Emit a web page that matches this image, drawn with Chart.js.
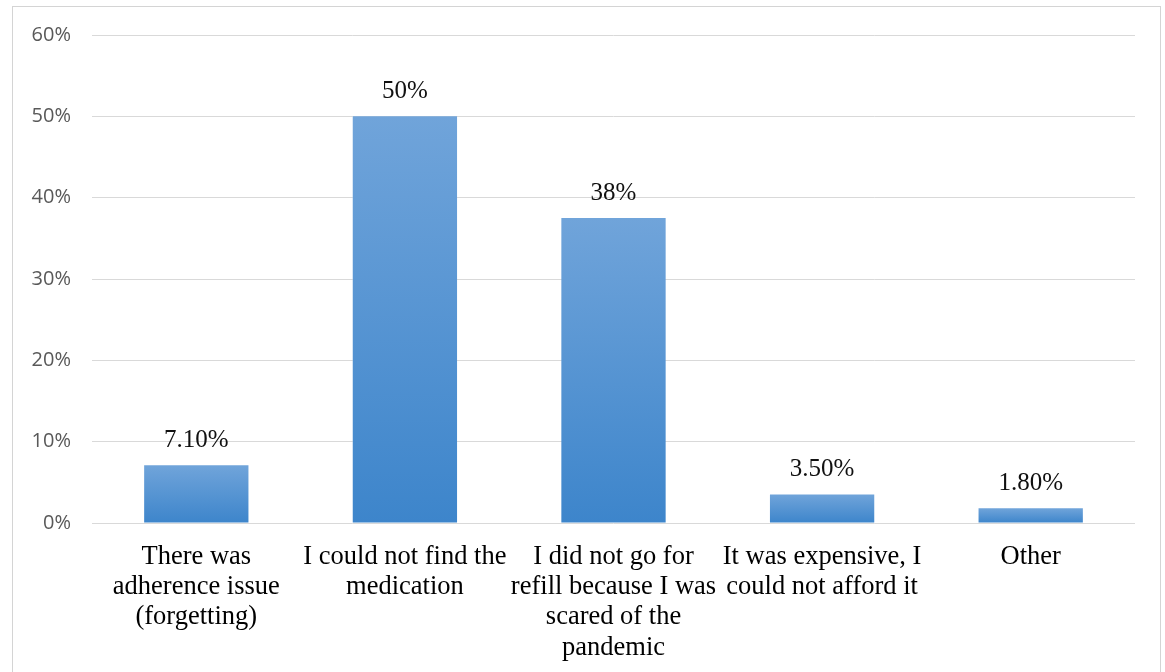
<!DOCTYPE html>
<html>
<head>
<meta charset="utf-8">
<script src="https://cdn.jsdelivr.net/npm/chart.js@4/dist/chart.umd.min.js"></script>
<style>
  html, body { margin: 0; padding: 0; background: #ffffff; overflow: hidden; }
  #frame { position: absolute; left: 12px; top: 6px; width: 1149px; height: 720px; border: 1px solid #d4d4d4; box-sizing: border-box; }
  #wrap { position: absolute; left: 0; top: 0; width: 1165px; height: 672px; }
</style>
</head>
<body>
<div id="frame"></div>
<div id="wrap"><canvas id="c" width="1165" height="672"></canvas></div>
<script>
const categories = [
  ["There was", "adherence issue", "(forgetting)"],
  ["I could not find the", "medication"],
  ["I did not go for", "refill because I was", "scared of the", "pandemic"],
  ["It was expensive, I", "could not afford it"],
  ["Other"]
];
const values = [7.1, 50, 37.5, 3.5, 1.8];
const valueLabels = ["7.10%", "50%", "38%", "3.50%", "1.80%"];
const yTicks = [0, 10, 20, 30, 40, 50, 60];

const dataLabelPlugin = {
  id: 'dataLabels',
  afterDatasetsDraw(chart) {
    const ctx = chart.ctx;
    const meta = chart.getDatasetMeta(0);
    ctx.save();
    ctx.font = '25px "Liberation Serif", "Times New Roman", serif';
    ctx.fillStyle = '#111111';
    ctx.textAlign = 'center';
    ctx.textBaseline = 'middle';
    meta.data.forEach((bar, i) => {
      ctx.fillText(valueLabels[i], bar.x, bar.y - 25);
    });
    ctx.restore();
  }
};

function barFill(context) {
  const chart = context.chart;
  if (!chart.chartArea) return '#5b9bd5';
  const y = chart.scales.y;
  const top = y.getPixelForValue(values[context.dataIndex]);
  const bot = y.getPixelForValue(0);
  const g = chart.ctx.createLinearGradient(0, top, 0, bot);
  g.addColorStop(0, '#70a4da');
  g.addColorStop(1, '#3d85cb');
  return g;
}

new Chart(document.getElementById('c'), {
  type: 'bar',
  data: {
    labels: categories,
    datasets: [{
      data: values,
      backgroundColor: barFill,
      borderWidth: 0,
      categoryPercentage: 1.0,
      barPercentage: 0.5
    }]
  },
  options: {
    responsive: false,
    animation: false,
    devicePixelRatio: 1,
    layout: { padding: { top: 35, right: 30, left: 0, bottom: 0 } },
    plugins: { legend: { display: false }, tooltip: { enabled: false } },
    scales: {
      x: {
        grid: { display: false, drawTicks: false },
        border: { display: false },
        ticks: {
          color: '#000000',
          font: { family: '"Liberation Serif", "Times New Roman", serif', size: 26.5, lineHeight: 1.14 },
          padding: 19,
          maxRotation: 0,
          autoSkip: false
        },
        afterFit(scale) { scale.height = 149; }
      },
      y: {
        min: 0,
        max: 60,
        afterBuildTicks(scale) { scale.ticks = yTicks.map(v => ({ value: v })); },
        grid: { color: '#d9d9d9', lineWidth: 1, drawTicks: false },
        border: { display: false },
        ticks: {
          color: '#595959',
          font: { family: '"Open Sans", sans-serif', size: 20 },
          padding: 21,
          callback: v => v + '%'
        },
        afterFit(scale) { scale.width = 92; }
      }
    }
  },
  plugins: [dataLabelPlugin]
});
</script>
</body>
</html>
